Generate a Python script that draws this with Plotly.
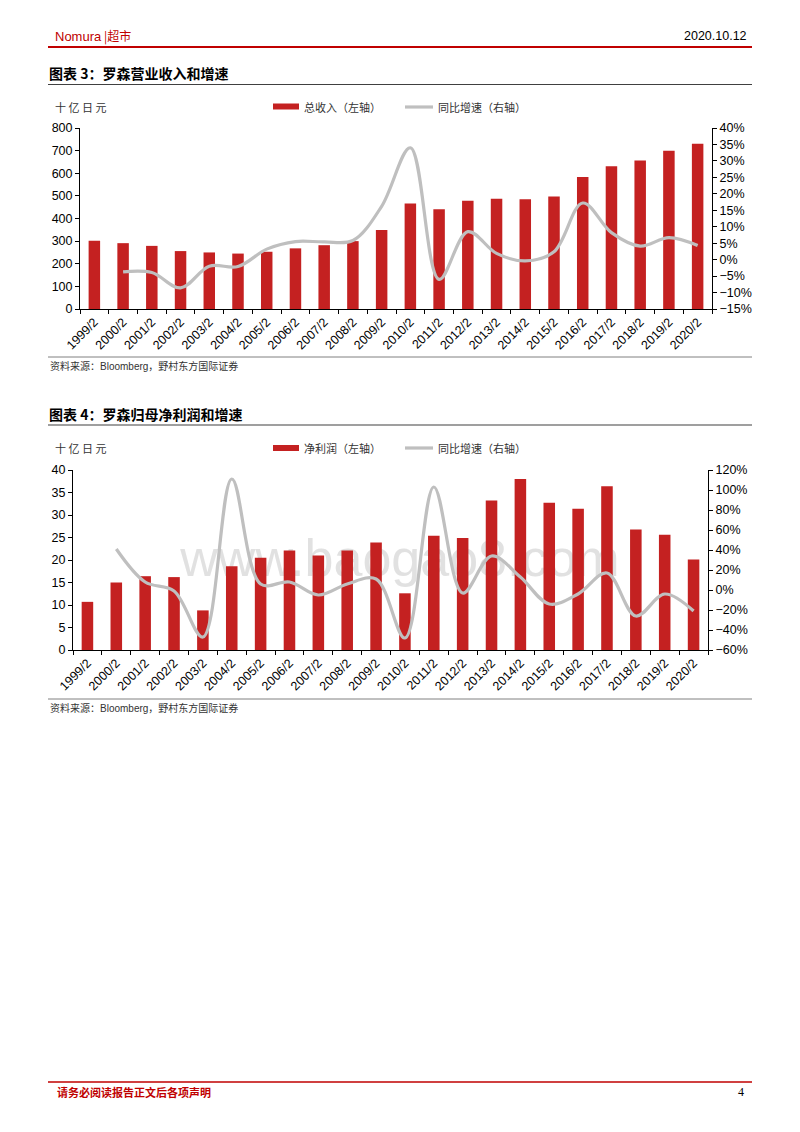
import plotly.graph_objects as go

W, H = 800, 1132

years = ["1999/2", "2000/2", "2001/2", "2002/2", "2003/2", "2004/2", "2005/2", "2006/2",
         "2007/2", "2008/2", "2009/2", "2010/2", "2011/2", "2012/2", "2013/2", "2014/2",
         "2015/2", "2016/2", "2017/2", "2018/2", "2019/2", "2020/2"]
revenue = [302, 291, 279, 256, 250, 245, 253, 268, 282, 300, 349, 466, 441, 478, 487, 485,
           497, 583, 631, 656, 700, 730]
revenue_growth = [None, -3.7, -3.9, -8.6, -2.0, -2.1, 3.2, 5.5, 5.4, 5.8, 16.2, 34.0, -6.0,
                  8.5, 1.9, -0.4, 2.4, 17.2, 8.2, 4.1, 6.7, 4.3]
profit = [10.7, 15.0, 16.4, 16.2, 8.8, 18.6, 20.5, 22.1, 21.0, 22.1, 23.9, 12.6, 25.4, 24.9,
          33.2, 38.0, 32.7, 31.4, 36.4, 26.8, 25.6, 20.1]
profit_growth = [None, 41, 8, -1, -47, 111, 6, 8, -5, 6, 11, -48, 103, -3, 34, 13, -14, -4,
                 17, -26, -4, -21]

RED = "#C42121"
GRAY = "#BFBFBF"
CJK = "Noto Sans CJK SC"
LAT = "Liberation Sans, Arial, sans-serif"


def px(x):
    return x / W


def py(y):
    return 1 - y / H


fig = go.Figure()

fig.add_trace(go.Bar(x=years, y=revenue, marker=dict(color=RED, line=dict(width=0)),
                     xaxis="x", yaxis="y", name="总收入（左轴）", showlegend=False))
fig.add_trace(go.Scatter(x=years, y=revenue_growth, mode="lines",
                         line=dict(color=GRAY, width=3.2, shape="spline", smoothing=1.0),
                         xaxis="x", yaxis="y2", name="同比增速（右轴）", showlegend=False))
fig.add_trace(go.Bar(x=years, y=profit, marker=dict(color=RED, line=dict(width=0)),
                     xaxis="x2", yaxis="y3", name="净利润（左轴）", showlegend=False))
fig.add_trace(go.Scatter(x=years, y=profit_growth, mode="lines",
                         line=dict(color=GRAY, width=3.2, shape="spline", smoothing=1.0),
                         xaxis="x2", yaxis="y4", name="同比增速（右轴）", showlegend=False))

axis_common = dict(showline=True, linecolor="black", linewidth=1, ticks="outside",
                   ticklen=4, tickcolor="black", showgrid=False, zeroline=False,
                   automargin=False,
                   tickfont=dict(family=LAT, size=12.5, color="black"))
xcommon = dict(axis_common, type="category", tickson="boundaries", tickangle=-45,
               tickfont=dict(family=LAT, size=12.5, color="black"))

c1x = [px(80), px(712)]
c1y = [py(309), py(128)]
c2x = [px(73), px(708)]
c2y = [py(650), py(470)]

fig.update_layout(
    template="none",
    width=W, height=H, autosize=False,
    margin=dict(l=0, r=0, t=0, b=0, pad=0),
    paper_bgcolor="white", plot_bgcolor="rgba(0,0,0,0)",
    bargap=0.6,
    xaxis=dict(xcommon, domain=c1x, anchor="y"),
    yaxis=dict(axis_common, domain=c1y, range=[0, 800], dtick=100, anchor="x"),
    yaxis2=dict(axis_common, overlaying="y", side="right", range=[-15, 40], dtick=5,
                ticksuffix="%", anchor="x"),
    xaxis2=dict(xcommon, domain=c2x, anchor="y3"),
    yaxis3=dict(axis_common, domain=c2y, range=[0, 40], dtick=5, anchor="x2"),
    yaxis4=dict(axis_common, overlaying="y3", side="right", range=[-60, 120], dtick=20,
                ticksuffix="%", anchor="x2"),
)

shapes = []
annos = []


def line(x0, x1, y, color, w):
    shapes.append(dict(type="line", xref="paper", yref="paper", x0=px(x0), x1=px(x1),
                       y0=py(y), y1=py(y), line=dict(color=color, width=w)))


def text(x, y, s, size, color="black", anchor="left", family=CJK, bold=False):
    if bold:
        s = "<b>" + s + "</b>"
    annos.append(dict(x=px(x), y=py(y), xref="paper", yref="paper", text=s,
                      showarrow=False, xanchor=anchor, yanchor="middle",
                      font=dict(family=family, size=size, color=color)))


# header
text(53, 36, "<span style='font-family:Liberation Sans;font-size:13px'>Nomura</span> |超市", 12, "#C00000")
text(749, 36, "2020.10.12", 12.5, "black", anchor="right", family=LAT)
line(48, 752, 47, "#C00000", 2)

# chart 1 titles
text(47, 73, "图表 3：罗森营业收入和增速", 14, "black", bold=True)
line(48, 752, 84.5, "#404040", 1.2)
text(53, 107, "十 亿 日 元", 11, "#333333")
shapes.append(dict(type="rect", xref="paper", yref="paper", x0=px(273), x1=px(299),
                   y0=py(109.5), y1=py(103.5), fillcolor=RED, line=dict(width=0)))
text(302, 107, "总收入（左轴）", 11, "#333333")
line(405, 433, 107, GRAY, 3.2)
text(436, 107, "同比增速（右轴）", 11, "#333333")
line(48, 752, 357, "#808080", 1)
text(48, 365, "资料来源：<span style='font-family:Liberation Sans'>Bloomberg</span>，野村东方国际证券", 10, "#333333")

# chart 2 titles
text(47, 414, "图表 4：罗森归母净利润和增速", 14, "black", bold=True)
line(48, 752, 425, "#404040", 1.2)
text(53, 448, "十 亿 日 元", 11, "#333333")
shapes.append(dict(type="rect", xref="paper", yref="paper", x0=px(273), x1=px(299),
                   y0=py(451), y1=py(445), fillcolor=RED, line=dict(width=0)))
text(302, 448, "净利润（左轴）", 11, "#333333")
line(405, 433, 448, GRAY, 3.2)
text(436, 448, "同比增速（右轴）", 11, "#333333")
line(48, 752, 699, "#808080", 1)
text(48, 707, "资料来源：<span style='font-family:Liberation Sans'>Bloomberg</span>，野村东方国际证券", 10, "#333333")

# footer
line(48, 752, 1082, "#C00000", 1.5)
text(55, 1092, "请务必阅读报告正文后各项声明", 11, "#C00000", bold=True)
text(746, 1092, "4", 12, "black", anchor="right", family="Liberation Serif")

# watermark behind traces
shapes.append(dict(type="rect", xref="paper", yref="paper", x0=px(150), x1=px(650),
                   y0=py(580), y1=py(525), layer="below", line=dict(width=0),
                   fillcolor="rgba(0,0,0,0)",
                   label=dict(text="www.baogao8.com", textposition="middle center",
                              font=dict(family=LAT, size=52, color="rgba(200,200,200,0.55)"))))

fig.update_layout(shapes=shapes, annotations=annos)

fig.write_html("out.html", config={"displayModeBar": False},
               post_script="document.body.style.margin='0';")
